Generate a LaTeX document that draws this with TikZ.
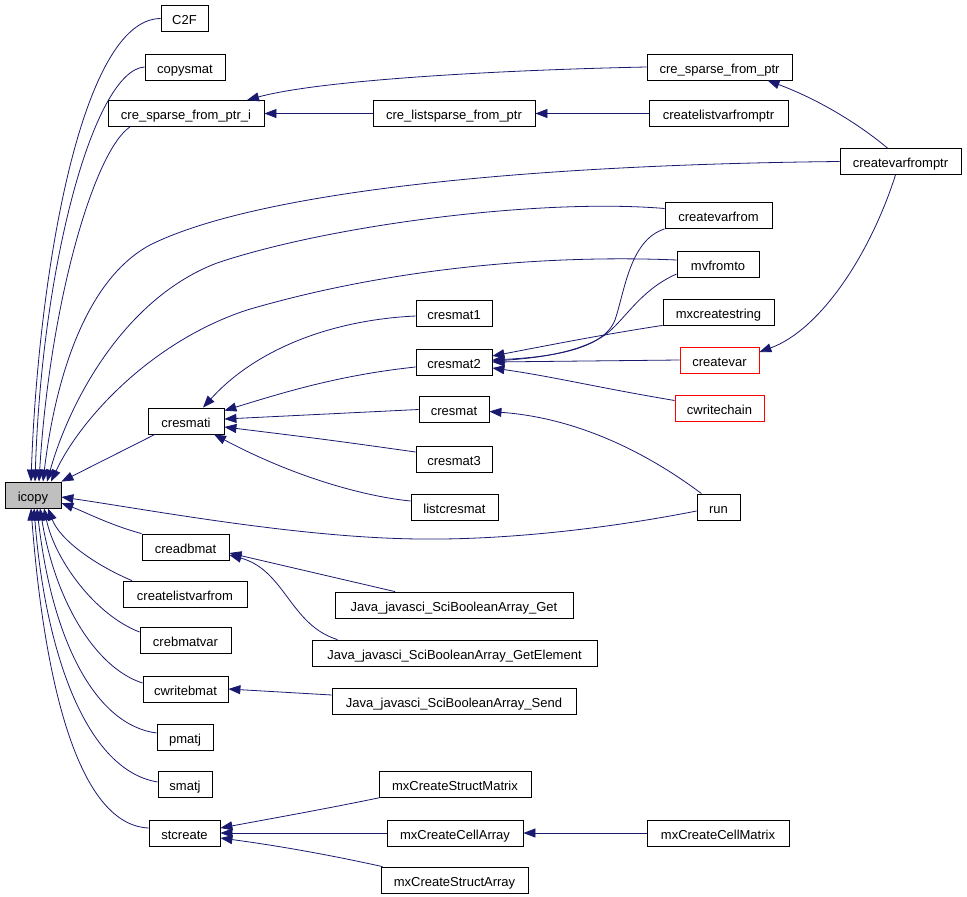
\documentclass[tikz,border=0pt]{standalone}
\usepackage{fontspec}
\setmainfont{Liberation Sans}
\usepackage{tikz}
\usetikzlibrary{arrows.meta}
\definecolor{edgeblue}{RGB}{25,25,112}
\tikzset{
    fnode/.style={
        rectangle,
        draw=black, % 黑色边框
        line width=0.8pt,
        minimum height=26pt,
        inner sep=0,
        text height=12pt, % 文字略靠下
        text depth=0pt,
        font=\fontsize{13}{15}\selectfont
    },
    rootnode/.style={
        fnode,
        fill=black!25 % 灰色填充
    },
    warnnode/.style={
        fnode,
        draw=red
    },
    calls/.style={
        draw=edgeblue,
        line width=0.8pt,
        -{Triangle[length=12pt,width=9pt]}
    }
}

\begin{document}
\begin{tikzpicture}[x=1pt,y=-1pt]
            \useasboundingbox (0,0) rectangle (967,897);
            % 左列
            \node[rootnode, minimum width=56] (icopy) at (33,495) {icopy};
            \node[fnode, minimum width=47] (cf) at (184.5,18.5) {C2F};
            \node[fnode, minimum width=80] (copysmat) at (185,67) {copysmat};
            \node[fnode, minimum width=156] (crespfi) at (186,113.5) {cre\_sparse\_from\_ptr\_i};
            \node[fnode, minimum width=76] (cresmati) at (186,421) {cresmati};
            \node[fnode, minimum width=87] (creadbmat) at (185.5,547) {creadbmat};
            \node[fnode, minimum width=124] (clvf) at (185,594) {createlistvarfrom};
            \node[fnode, minimum width=91] (crebmatvar) at (185.5,640) {crebmatvar};
            \node[fnode, minimum width=85] (cwritebmat) at (185.5,689) {cwritebmat};
            \node[fnode, minimum width=56] (pmatj) at (185,737) {pmatj};
            \node[fnode, minimum width=54] (smatj) at (185,784) {smatj};
            \node[fnode, minimum width=71] (stcreate) at (184.5,833) {stcreate};
            % 中列
            \node[fnode, minimum width=162] (crelsp) at (454,113.5) {cre\_listsparse\_from\_ptr};
            \node[fnode, minimum width=76] (cresmatA) at (454,313) {cresmat1};
            \node[fnode, minimum width=76] (cresmatB) at (454,362) {cresmat2};
            \node[fnode, minimum width=70] (cresmat) at (454,409.5) {cresmat};
            \node[fnode, minimum width=76] (cresmatC) at (454,459) {cresmat3};
            \node[fnode, minimum width=87] (listcresmat) at (454.5,507) {listcresmat};
            \node[fnode, minimum width=238] (jget) at (454,605) {Java\_javasci\_SciBooleanArray\_Get};
            \node[fnode, minimum width=285] (jgetel) at (454.5,653) {Java\_javasci\_SciBooleanArray\_GetElement};
            \node[fnode, minimum width=244] (jsend) at (454,701) {Java\_javasci\_SciBooleanArray\_Send};
            \node[fnode, minimum width=152] (mxcsm) at (455,784) {mxCreateStructMatrix};
            \node[fnode, minimum width=136] (mxcca) at (455,833) {mxCreateCellArray};
            \node[fnode, minimum width=147] (mxcsa) at (454.5,880) {mxCreateStructArray};
            % 右列
            \node[fnode, minimum width=145] (crespf) at (719.5,67) {cre\_sparse\_from\_ptr};
            \node[fnode, minimum width=139] (clvfp) at (718.5,113.5) {createlistvarfromptr};
            \node[fnode, minimum width=121] (cvfp) at (900.5,161.5) {createvarfromptr};
            \node[fnode, minimum width=107] (cvf) at (718.5,215.5) {createvarfrom};
            \node[fnode, minimum width=82] (mvfromto) at (718,264) {mvfromto};
            \node[fnode, minimum width=111] (mxcstr) at (718.5,312) {mxcreatestring};
            \node[warnnode, minimum width=79] (createvar) at (719.5,360) {createvar};
            \node[warnnode, minimum width=89] (cwchain) at (719.5,408.5) {cwritechain};
            \node[fnode, minimum width=43] (run) at (718.5,507) {run};
            \node[fnode, minimum width=142] (mxccm) at (718,833) {mxCreateCellMatrix};

            % 调用 icopy
            \draw[calls] (cf.west) .. controls (80,19) and (38,280) .. ([xshift=-2pt]icopy.north);
            \draw[calls] (copysmat.west) .. controls (95,70) and (42,260) .. ([xshift=2pt]icopy.north);
            \draw[calls] ([xshift=-56pt]crespfi.south) .. controls (95,150) and (50,300) .. ([xshift=6pt]icopy.north);
            \draw[calls] (cvfp.west) .. controls (500,165) and (250,195) .. (150,245)
                .. controls (85,280) and (55,380) .. ([xshift=10pt]icopy.north);
            \draw[calls] ([yshift=7pt]cvf.west) .. controls (540,198) and (330,225) .. (217,263)
                .. controls (125,298) and (70,400) .. ([xshift=14pt]icopy.north);
            \draw[calls] ([yshift=4pt]mvfromto.west) .. controls (560,255) and (400,265) .. (247,310)
                .. controls (150,342) and (80,420) .. ([xshift=18pt]icopy.north);
            \draw[calls] ([xshift=-31pt]cresmati.south) -- (icopy.north east);
            \draw[calls] ([yshift=-4pt]run.west) .. controls (600,530) and (500,540) .. (420,539)
                .. controls (300,538) and (150,510) .. ([yshift=-2pt]icopy.east);
            \draw[calls] (creadbmat.north west) .. controls (110,525) and (85,512) .. ([yshift=-8pt]icopy.east);
            \draw[calls] ([xshift=-53pt]clvf.north) .. controls (95,565) and (60,540) .. ([xshift=15pt]icopy.south);
            \draw[calls] ([yshift=8pt]crebmatvar.west) .. controls (95,615) and (55,560) .. ([xshift=11pt]icopy.south);
            \draw[calls] ([yshift=6pt]cwritebmat.west) .. controls (95,668) and (55,600) .. ([xshift=7pt]icopy.south);
            \draw[calls] ([yshift=4pt]pmatj.west) .. controls (95,725) and (52,640) .. ([xshift=4pt]icopy.south);
            \draw[calls] ([yshift=2pt]smatj.west) .. controls (85,770) and (45,650) .. ([xshift=1pt]icopy.south);
            \draw[calls] ([yshift=5pt]stcreate.west) .. controls (80,825) and (45,690) .. ([xshift=-2pt]icopy.south);

            % cre_sparse_from_ptr_i
            \draw[calls] (crespf.west) .. controls (500,70) and (320,80) .. ([xshift=61pt]crespfi.north);
            \draw[calls] (crelsp.west) -- (crespfi.east);
            \draw[calls] (clvfp.west) -- (crelsp.east);
            \draw[calls] ([xshift=-13pt]cvfp.north) .. controls (860,125) and (820,100) .. ([xshift=48pt]crespf.south);
            \draw[calls] ([xshift=-5pt]cvfp.south) .. controls (870,255) and (820,330) .. ([yshift=8pt]createvar.east);

            % cresmati
            \draw[calls] ([yshift=-3pt]cresmatA.west) .. controls (330,320) and (255,350) .. ([xshift=17pt]cresmati.north);
            \draw[calls] ([yshift=-5pt]cresmatB.west) .. controls (340,375) and (285,392) .. ([yshift=-3pt]cresmati.north east);
            \draw[calls] (cresmat.west) -- ([yshift=2pt]cresmati.east);
            \draw[calls] ([yshift=7pt]cresmatC.west) .. controls (330,440) .. ([yshift=-6pt]cresmati.east);
            \draw[calls] ([yshift=6pt]listcresmat.west) .. controls (370,497) and (300,480) .. ([xshift=28pt]cresmati.south);

            % cresmat2
            \draw[calls] (cvf.south west) .. controls (630,240) and (625,290) .. (615,320)
                .. controls (603,350) and (550,357) .. ([yshift=2pt]cresmatB.east);
            \draw[calls] ([yshift=-10pt]mvfromto.west) .. controls (640,290) and (625,320) .. (605,335)
                .. controls (580,352) and (540,358) .. ([yshift=1pt]cresmatB.east);
            \draw[calls] (mxcstr.south west) .. controls (600,335) and (550,345) .. ([yshift=6pt]cresmatB.east);
            \draw[calls] (createvar.west) -- (cresmatB.east);
            \draw[calls] ([yshift=8pt]cwchain.west) .. controls (600,388) and (550,376) .. ([yshift=-6pt]cresmatB.east);
            \draw[calls] ([xshift=-17pt]run.north) .. controls (650,455) and (580,418) .. ([yshift=-2pt]cresmat.east);

            % creadbmat, cwritebmat
            \draw[calls] ([xshift=-59pt]jget.north) -- ([yshift=-6pt]creadbmat.east);
            \draw[calls] ([xshift=-117pt]jgetel.north) .. controls (290,625) and (285,570) .. ([yshift=-8pt]creadbmat.east);
            \draw[calls] ([yshift=6pt]jsend.west) -- (cwritebmat.east);

            % stcreate
            \draw[calls] ([xshift=-74pt]mxcsm.south) .. controls (330,808) and (280,817) .. ([yshift=5pt]stcreate.east);
            \draw[calls] (mxcca.west) -- (stcreate.east);
            \draw[calls] ([xshift=-72pt]mxcsa.north) .. controls (330,855) and (280,846) .. ([yshift=-5pt]stcreate.east);
            \draw[calls] (mxccm.west) -- (mxcca.east);
\end{tikzpicture}
\end{document}
